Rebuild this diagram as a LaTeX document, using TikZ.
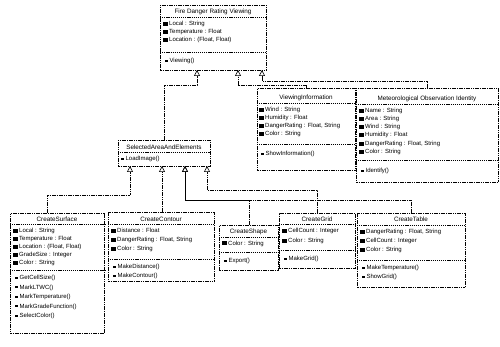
\documentclass[tikz,border=0pt]{standalone}
\usepackage{fontspec}
\setmainfont{Liberation Sans}
\usetikzlibrary{arrows.meta}
\newcommand\atic{\rule[-0.4pt]{4.4pt}{4pt}\hspace{1.6pt}}
\newcommand\mtic{\rule[0.6pt]{2.8pt}{2pt}\hspace{1.6pt}}
\newcommand\mysep[2]{\draw[sep] (#1.west |- 0,#2) -- (#1.east |- 0,#2);}
\tikzset{
  box/.style={draw, dash pattern=on 1.6pt off 0.7pt, line width=0.7pt, inner sep=0pt, anchor=north west},
  sep/.style={dash pattern=on 1.2pt off 0.9pt, line width=0.55pt},
  ttl/.style={font=\fontsize{6.3}{7}\selectfont, inner sep=0pt, anchor=center},
  attr/.style={font=\fontsize{6}{7}\selectfont, inner sep=0pt, anchor=west},
  gen/.style={dash pattern=on 1.6pt off 0.7pt, line width=0.65pt,
    -{Triangle[open,length=6pt,width=6pt,line width=0.6pt]}}
}
\begin{document}
\begin{tikzpicture}[x=1pt,y=-1pt]
\useasboundingbox (0,0) rectangle (500,347);
% ---------- Fire Danger Rating Viewing
\node[box, minimum width=106pt, minimum height=65pt] (fd) at (160,5) {};
\node[ttl] (fdn) at (213,12) {Fire Danger Rating Viewing};
\mysep{fd}{17}
\node[attr] (fda1) at (163,24) {\atic Local : String};
\node[attr] (fda2) at (163,32) {\atic Temperature : Float};
\node[attr] (fda3) at (163,40) {\atic Location : (Float, Float)};
\mysep{fd}{52}
\node[attr] (fdm1) at (165,61) {\mtic Viewing()};
\coordinate (fdT1) at (197,70);
\coordinate (fdT2) at (238,70);
\coordinate (fdT3) at (262,70);
% ---------- ViewingInformation
\node[box, minimum width=98pt, minimum height=82pt] (vi) at (257,88) {};
\node[ttl] (vin) at (306,98) {ViewingInformation};
\mysep{vi}{103}
\node[attr] (via1) at (259,110) {\atic Wind : String};
\node[attr] (via2) at (259,118) {\atic Humidity : Float};
\node[attr] (via3) at (259,126) {\atic DangerRating : Float, String};
\node[attr] (via4) at (259,134) {\atic Color : String};
\mysep{vi}{144}
\node[attr] (vim1) at (261,154) {\mtic ShowInformation()};
% ---------- Meteorological Observation Identity
\node[box, minimum width=142pt, minimum height=94pt] (mo) at (356,88) {};
\node[ttl] (mon) at (427,99) {Meteorological Observation Identity};
\mysep{mo}{104}
\node[attr] (moa1) at (359,111) {\atic Name : String};
\node[attr] (moa2) at (359,119) {\atic Area : String};
\node[attr] (moa3) at (359,127) {\atic Wind : String};
\node[attr] (moa4) at (359,135) {\atic Humidity : Float};
\node[attr] (moa5) at (359,144) {\atic DangerRating : Float, String};
\node[attr] (moa6) at (359,152) {\atic Color : String};
\mysep{mo}{160}
\node[attr] (mom1) at (361,171) {\mtic Identify()};
% ---------- SelectedAreaAndElements
\node[box, minimum width=92pt, minimum height=26pt] (sel) at (118,140) {};
\node[ttl] (seln) at (164,147) {SelectedAreaAndElements};
\mysep{sel}{152}
\node[attr] (selm1) at (121,159) {\mtic LoadImage()};
\coordinate (selT1) at (130,166);
\coordinate (selT2) at (162,166);
\coordinate (selT3) at (185,166);
\coordinate (selT4) at (207,166);
% ---------- CreateSurface
\node[box, minimum width=94pt, minimum height=120pt] (cs) at (10,213) {};
\node[ttl] (csn) at (57,219) {CreateSurface};
\mysep{cs}{224}
\node[attr] (csa1) at (13,231) {\atic Local : String};
\node[attr] (csa2) at (13,239) {\atic Temperature : Float};
\node[attr] (csa3) at (13,247) {\atic Location : (Float, Float)};
\node[attr] (csa4) at (13,255) {\atic GradeSize : Integer};
\node[attr] (csa5) at (13,263) {\atic Color : String};
\mysep{cs}{270}
\node[attr] (csm1) at (15,278) {\mtic GetCellSize()};
\node[attr] (csm2) at (15,287.5) {\mtic MarkLTWC()};
\node[attr] (csm3) at (15,297) {\mtic MarkTemperature()};
\node[attr] (csm4) at (15,306.5) {\mtic MarkGradeFunction()};
\node[attr] (csm5) at (15,316) {\mtic SelectColor()};
% ---------- CreateContour
\node[box, minimum width=106pt, minimum height=69pt] (cc) at (108,212) {};
\node[ttl] (ccn) at (161,219) {CreateContour};
\mysep{cc}{224}
\node[attr] (cca1) at (111,231) {\atic Distance : Float};
\node[attr] (cca2) at (111,240) {\atic DangerRating : Float, String};
\node[attr] (cca3) at (111,249) {\atic Color : String};
\mysep{cc}{259}
\node[attr] (ccm1) at (113,267) {\mtic MakeDistance()};
\node[attr] (ccm2) at (113,276) {\mtic MakeContour()};
% ---------- CreateShape
\node[box, minimum width=59pt, minimum height=45pt] (csh) at (219,225) {};
\node[ttl] (cshn) at (248.5,232) {CreateShape};
\mysep{csh}{237}
\node[attr] (csha1) at (222,243.5) {\atic Color : String};
\mysep{csh}{252}
\node[attr] (cshm1) at (224,261) {\mtic Export()};
% ---------- CreateGrid
\node[box, minimum width=76pt, minimum height=55pt] (cg) at (279,213) {};
\node[ttl] (cgn) at (317,219) {CreateGrid};
\mysep{cg}{224}
\node[attr] (cga1) at (282,231) {\atic CellCount : Integer};
\node[attr] (cga2) at (282,241) {\atic Color : String};
\mysep{cg}{250}
\node[attr] (cgm1) at (284,259) {\mtic MakeGrid()};
% ---------- CreateTable
\node[box, minimum width=108pt, minimum height=74pt] (ct) at (357,213) {};
\node[ttl] (ctn) at (411,219) {CreateTable};
\mysep{ct}{225}
\node[attr] (cta1) at (360,232) {\atic DangerRating : Float, String};
\node[attr] (cta2) at (360,241) {\atic CellCount : Integer};
\node[attr] (cta3) at (360,250) {\atic Color : String};
\mysep{ct}{260}
\node[attr] (ctm1) at (362,268) {\mtic MakeTemperature()};
\node[attr] (ctm2) at (362,277) {\mtic ShowGrid()};
% ---------- generalisations
\draw[gen] (sel.north) |- (fdT1 |- 0,85) -- (fdT1);
\draw[gen] (vi.north) |- (fdT2 |- 0,85) -- (fdT2);
\draw[gen] (mo.north) |- (fdT3 |- 0,81) -- (fdT3);
\draw[gen] (cs.north -| 47,0) |- (selT1 |- 0,195) -- (selT1);
\draw[gen] (cc.north -| selT2) -- (selT2);
\draw[gen] (csh.north) |- (selT3 |- 0,200) -- (selT3);
\draw[gen] (ct.north) |- (selT3 |- 0,200) -- (selT3);
\draw[gen] (cg.north) |- (selT4 |- 0,190) -- (selT4);
\end{tikzpicture}
\end{document}
